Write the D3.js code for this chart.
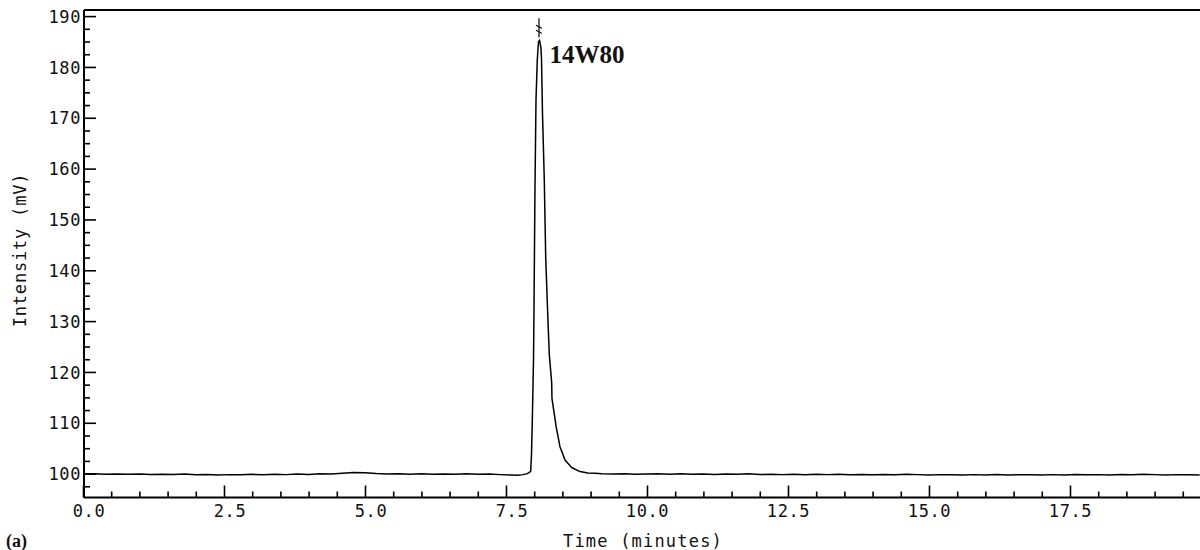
<!DOCTYPE html>
<html>
<head>
<meta charset="utf-8">
<script src="https://cdn.jsdelivr.net/npm/d3@7"></script>
<style>
  html, body { margin: 0; padding: 0; background: #fff; }
  svg { display: block; }
</style>
</head>
<body>
<svg id="chart" width="1200" height="550"></svg>
<script>
// ---- data ----
const timeMin = [
  0.0, 0.2, 0.4, 0.6, 0.8, 1.0, 1.2, 1.4, 1.6, 1.8, 2.0, 2.2, 2.4, 2.6, 2.8, 3.0, 3.2, 3.4, 3.6, 3.8,
  4.0, 4.2, 4.4, 4.6, 4.8, 5.0, 5.2, 5.4, 5.6, 5.8, 6.0, 6.2, 6.4, 6.6, 6.8, 7.0, 7.2, 7.4, 7.6, 7.7,
  7.8, 7.88, 7.938, 7.952, 7.966, 7.988, 7.996, 8.014, 8.032, 8.055, 8.076, 8.094, 8.12, 8.13, 8.147,
  8.179, 8.204, 8.239, 8.268, 8.31, 8.315, 8.39, 8.457, 8.546, 8.664, 8.812, 8.95, 9.08, 9.2, 9.4,
  9.6, 9.8, 10.0, 10.2, 10.4, 10.6, 10.8, 11.0, 11.2, 11.4, 11.6, 11.8, 12.0, 12.2, 12.4, 12.6, 12.8,
  13.0, 13.2, 13.4, 13.6, 13.8, 14.0, 14.2, 14.4, 14.6, 14.8, 15.0, 15.2, 15.4, 15.6, 15.8, 16.0,
  16.2, 16.4, 16.6, 16.8, 17.0, 17.2, 17.4, 17.6, 17.8, 18.0, 18.2, 18.4, 18.6, 18.8, 19.0, 19.2,
  19.4, 19.6, 19.8
];
const intensity = [
  99.92, 99.95, 99.88, 99.93, 99.85, 99.90, 99.82, 99.88, 99.84, 99.90, 99.78, 99.83, 99.72, 99.80, 99.76, 99.85, 99.78, 99.88, 99.80, 99.90,
  99.84, 99.95, 99.90, 100.05, 100.22, 100.15, 100.00, 99.92, 99.98, 99.88, 99.95, 99.85, 99.93, 99.87, 99.95, 99.88, 99.92, 99.80, 99.72, 99.68,
  99.80, 100.0, 100.45, 103.7, 110.0, 122.4, 131.6, 156.2, 173.5, 181.4, 184.9, 185.3, 183.7, 181.4, 170.9,
  157.8, 142.6, 131.6, 123.4, 117.9, 114.8, 109.2, 105.3, 102.7, 101.2, 100.4, 100.1, 100.05, 99.95, 99.90,
  99.95, 99.86, 99.92, 99.98, 99.88, 99.95, 99.85, 99.90, 99.84, 99.92, 99.86, 99.95, 99.82, 99.88, 99.80, 99.86, 99.78,
  99.85, 99.80, 99.88, 99.78, 99.84, 99.76, 99.83, 99.78, 99.86, 99.80, 99.74, 99.80, 99.76, 99.72, 99.80, 99.75,
  99.82, 99.74, 99.80, 99.76, 99.72, 99.80, 99.75, 99.82, 99.76, 99.80, 99.74, 99.82, 99.78, 99.85, 99.80, 99.74,
  99.80, 99.76, 99.72
];
const xMajorTicks = [0, 2.5, 5, 7.5, 10, 12.5, 15, 17.5];
const xTickLabels = ["0.0", "2.5", "5.0", "7.5", "10.0", "12.5", "15.0", "17.5"];
const xMinorTicks = [0.5, 1, 1.5, 2, 3, 3.5, 4, 4.5, 5.5, 6, 6.5, 7, 8, 8.5, 9, 9.5, 10.5, 11, 11.5, 12,
                     13, 13.5, 14, 14.5, 15.5, 16, 16.5, 17, 18, 18.5, 19, 19.5];
const yMajorTicks = [100, 110, 120, 130, 140, 150, 160, 170, 180, 190];
const yTickLabels = ["100", "110", "120", "130", "140", "150", "160", "170", "180", "190"];
const yMinorTicks = [97.5, 102.5, 105, 107.5, 112.5, 115, 117.5, 122.5, 125, 127.5, 132.5, 135, 137.5,
                     142.5, 145, 147.5, 152.5, 155, 157.5, 162.5, 165, 167.5, 172.5, 175, 177.5,
                     182.5, 185, 187.5];
const peakLabel = "14W80";
const peakTime = 8.094;
const xTitle = "Time (minutes)";
const yTitle = "Intensity (mV)";
const panelLabel = "(a)";

// ---- layout ----
const svg = d3.select("#chart");
const plotLeft = 84, plotRight = 1200, plotTop = 10, plotBottom = 497.5;
const x = d3.scaleLinear().domain([0, 19.8]).range([83, 1199.7]);
const y = d3.scaleLinear().domain([95.3, 191.2]).range([plotBottom, plotTop]);
const monoFont = "'DejaVu Sans Mono', 'Liberation Mono', monospace";

// top border
svg.append("line")
  .attr("x1", plotLeft).attr("x2", plotRight).attr("y1", plotTop).attr("y2", plotTop)
  .attr("stroke", "#000").attr("stroke-width", 2);

// y axis minor
svg.append("g").attr("transform", `translate(${plotLeft},0)`)
  .call(d3.axisLeft(y).tickValues(yMinorTicks).tickSize(-6).tickFormat(""))
  .call(g => g.select(".domain").remove())
  .call(g => g.selectAll("line").attr("stroke", "#000").attr("stroke-width", 1.6));

// y axis major
const yLab = d3.scaleOrdinal().domain(yMajorTicks).range(yTickLabels);
svg.append("g").attr("transform", `translate(${plotLeft},0)`)
  .call(d3.axisLeft(y).tickValues(yMajorTicks).tickSize(-12).tickPadding(3).tickSizeOuter(0)
    .tickFormat(d => yLab(d)))
  .call(g => g.select(".domain").attr("d", `M0,${plotTop}V${plotBottom}`).attr("stroke", "#000").attr("stroke-width", 2))
  .call(g => g.selectAll("line").attr("stroke", "#000").attr("stroke-width", 1.6))
  .call(g => g.selectAll("text")
    .attr("font-family", monoFont).attr("font-size", 17).attr("fill", "#111")
    .attr("letter-spacing", 0.6).attr("dy", "0.36em"));

// x axis minor
svg.append("g").attr("transform", `translate(0,${plotBottom})`)
  .call(d3.axisBottom(x).tickValues(xMinorTicks).tickSize(-6).tickFormat(""))
  .call(g => g.select(".domain").remove())
  .call(g => g.selectAll("line").attr("stroke", "#000").attr("stroke-width", 1.6));

// x axis major
const xLab = d3.scaleOrdinal().domain(xMajorTicks).range(xTickLabels);
svg.append("g").attr("transform", `translate(0,${plotBottom})`)
  .call(d3.axisBottom(x).tickValues(xMajorTicks).tickSize(-12).tickPadding(0).tickSizeOuter(0)
    .tickFormat(d => xLab(d)))
  .call(g => g.select(".domain").attr("d", `M${plotLeft},0H${plotRight}`).attr("stroke", "#000").attr("stroke-width", 2))
  .call(g => g.selectAll("line").attr("stroke", "#000").attr("stroke-width", 1.6))
  .call(g => g.selectAll("text")
    .attr("font-family", monoFont).attr("font-size", 17).attr("fill", "#111")
    .attr("letter-spacing", 0.6)
    .attr("y", 19.5).attr("dy", 0)
    .attr("dx", function(d) { return xLab(d).length === 3 ? 5.5 : 0; }));

// trace
const pts = timeMin.map((t, i) => [t, intensity[i]]);
svg.append("path")
  .datum(pts)
  .attr("fill", "none")
  .attr("stroke", "#000")
  .attr("stroke-width", 1.5)
  .attr("stroke-linejoin", "round")
  .attr("d", d3.line().x(d => x(d[0])).y(d => y(d[1])));

// peak marker
const px = x(peakTime);
svg.append("line")
  .attr("x1", px - 0.5).attr("x2", px - 0.5).attr("y1", y(189.6)).attr("y2", y(185.8))
  .attr("stroke", "#000").attr("stroke-width", 1.2);
svg.append("path")
  .attr("d", `M${px - 3.5},${y(188.2)} L${px + 2.5},${y(187.6)} M${px - 3.5},${y(187.2)} L${px + 2.5},${y(186.6)}`)
  .attr("stroke", "#000").attr("stroke-width", 1.1).attr("fill", "none");

// peak label
svg.append("text")
  .attr("x", px + 10).attr("y", 63)
  .attr("font-family", "'Liberation Serif', 'Times New Roman', serif")
  .attr("font-weight", "bold").attr("font-size", 25).attr("fill", "#111")
  .text(peakLabel);

// axis titles
svg.append("text")
  .attr("x", 643).attr("y", 547)
  .attr("text-anchor", "middle")
  .attr("font-family", monoFont).attr("font-size", 17).attr("letter-spacing", 1.2).attr("fill", "#111")
  .text(xTitle);

svg.append("text")
  .attr("transform", "translate(26,250) rotate(-90)")
  .attr("text-anchor", "middle")
  .attr("font-family", monoFont).attr("font-size", 17).attr("letter-spacing", 0.8).attr("fill", "#111")
  .text(yTitle);

// panel label
svg.append("text")
  .attr("x", 6).attr("y", 547)
  .attr("font-family", "'Liberation Serif', 'Times New Roman', serif")
  .attr("font-weight", "bold").attr("font-size", 18).attr("fill", "#111")
  .text(panelLabel);
</script>
</body>
</html>
